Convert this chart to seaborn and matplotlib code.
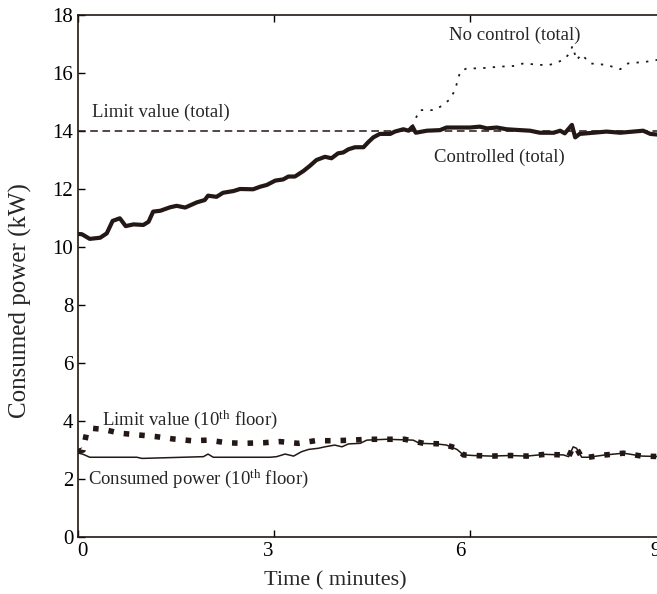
import numpy as np
import pandas as pd
import matplotlib
matplotlib.use('Agg')
import matplotlib.pyplot as plt
import matplotlib.transforms as mtransforms
import seaborn as sns

# --- data (time in minutes, power in kW) ---
ctrl_t = [0.0, 0.06, 0.18, 0.34, 0.44, 0.53, 0.64, 0.73, 0.85, 1.0, 1.08, 1.15, 1.26, 1.41,
          1.51, 1.64, 1.82, 1.94, 1.99, 2.12, 2.22, 2.38, 2.48, 2.68, 2.79, 2.89, 3.02, 3.14,
          3.22, 3.32, 3.45, 3.55, 3.65, 3.78, 3.88, 3.98, 4.06, 4.14, 4.24, 4.37, 4.44, 4.52,
          4.62, 4.78, 4.85, 4.98, 5.06, 5.12, 5.17, 5.34, 5.54, 5.64, 5.85, 6.0, 6.15, 6.26,
          6.41, 6.56, 6.77, 6.92, 7.07, 7.28, 7.38, 7.45, 7.56, 7.61, 7.68, 7.89, 8.09, 8.3,
          8.5, 8.65, 8.76, 9.0]
ctrl_kw = [10.45, 10.44, 10.28, 10.32, 10.47, 10.9, 10.99, 10.72, 10.78, 10.76, 10.87, 11.22,
           11.25, 11.37, 11.42, 11.36, 11.54, 11.62, 11.77, 11.73, 11.87, 11.93, 12.0, 11.99,
           12.08, 12.14, 12.29, 12.33, 12.43, 12.43, 12.62, 12.8, 13.0, 13.11, 13.06, 13.23,
           13.26, 13.37, 13.44, 13.44, 13.61, 13.78, 13.9, 13.9, 13.98, 14.06, 14.01, 14.15,
           13.94, 14.01, 14.03, 14.12, 14.12, 14.12, 14.15, 14.09, 14.12, 14.06, 14.03, 14.01,
           13.94, 13.94, 14.01, 13.92, 14.21, 13.78, 13.9, 13.94, 13.98, 13.94, 13.98, 14.01,
           13.9, 13.85]

noctrl_t = [5.12, 5.17, 5.23, 5.46, 5.59, 5.69, 5.77, 5.85, 5.95, 6.15, 6.46, 6.66, 6.82,
            7.07, 7.22, 7.43, 7.51, 7.57, 7.63, 7.71, 7.84, 8.09, 8.3, 8.42, 8.7, 9.0]
noctrl_kw = [14.15, 14.44, 14.72, 14.72, 14.9, 15.09, 15.41, 16.05, 16.16, 16.16, 16.22,
             16.24, 16.33, 16.28, 16.28, 16.45, 16.64, 16.93, 16.45, 16.64, 16.33, 16.28,
             16.13, 16.33, 16.39, 16.5]

limit_total = 14.0

lim10_t = [0.0, 0.08, 0.13, 0.21, 0.39, 0.64, 0.92, 1.2, 1.46, 1.74, 1.99, 2.28, 2.53, 2.84,
           3.09, 3.37, 3.63, 3.91, 4.19, 4.44, 4.72, 5.0, 5.29, 5.57, 5.8, 5.9, 6.05, 6.33,
           6.61, 6.87, 7.15, 7.43, 7.51, 7.58, 7.63, 7.71, 7.81, 8.07, 8.35, 8.63, 9.0]
lim10_kw = [2.95, 3.0, 3.58, 3.75, 3.71, 3.58, 3.52, 3.46, 3.38, 3.32, 3.34, 3.25, 3.23, 3.25,
            3.29, 3.23, 3.32, 3.32, 3.34, 3.37, 3.37, 3.37, 3.23, 3.21, 3.06, 2.83, 2.81, 2.79,
            2.81, 2.79, 2.85, 2.83, 2.77, 3.11, 3.06, 2.75, 2.75, 2.83, 2.89, 2.79, 2.77]

cons10_t = [0.0, 0.08, 0.18, 0.39, 0.9, 0.98, 1.92, 1.99, 2.07, 2.94, 3.04, 3.17, 3.3, 3.42,
            3.53, 3.68, 3.78, 3.93, 4.04, 4.14, 4.32, 4.42, 4.72, 5.13, 5.23, 5.49, 5.64, 5.8,
            5.9, 6.05, 6.33, 6.61, 6.87, 7.15, 7.43, 7.51, 7.58, 7.63, 7.71, 7.81, 8.07, 8.35,
            8.63, 9.0]
cons10_kw = [2.9, 2.85, 2.75, 2.75, 2.75, 2.71, 2.77, 2.86, 2.75, 2.75, 2.77, 2.86, 2.79, 2.94,
             3.02, 3.06, 3.11, 3.17, 3.11, 3.21, 3.23, 3.34, 3.37, 3.34, 3.23, 3.21, 3.17, 3.02,
             2.83, 2.81, 2.79, 2.81, 2.79, 2.85, 2.83, 2.77, 3.11, 3.06, 2.75, 2.75, 2.83, 2.89,
             2.79, 2.77]

x_ticks = [0, 3, 6, 9]
y_ticks = [0, 2, 4, 6, 8, 10, 12, 14, 16, 18]

sns.set_style('ticks')
plt.rcParams['font.family'] = ['Liberation Serif', 'DejaVu Serif']
plt.rcParams['mathtext.fontset'] = 'custom'
plt.rcParams['mathtext.rm'] = 'Liberation Serif'
plt.rcParams['mathtext.it'] = 'Liberation Serif:italic'

ink = '#231815'

fig = plt.figure(figsize=(6.57, 5.94), dpi=100)
# axes run past the right edge of the picture, as in the original crop
ax = fig.add_axes([78 / 657, 57 / 594, (666 - 78) / 657, 522 / 594])

sns.lineplot(x=ctrl_t, y=ctrl_kw, ax=ax, color=ink, lw=3.0, sort=False)
sns.lineplot(x=noctrl_t, y=noctrl_kw, ax=ax, color=ink, lw=1.3, sort=False,
             linestyle=(0, (1.3, 4.0)))
ax.axhline(limit_total, color=ink, lw=1.1, linestyle=(0, (5, 3)))
sns.lineplot(x=lim10_t, y=lim10_kw, ax=ax, color=ink, lw=4.0, sort=False,
             linestyle=(0, (1.0, 1.8)))
sns.lineplot(x=cons10_t, y=cons10_kw, ax=ax, color=ink, lw=1.1, sort=False)

ax.set_xlim(0, 9)
ax.set_ylim(0, 18)
ax.set_xticks(x_ticks)
ax.set_yticks(y_ticks)
ax.tick_params(direction='in', length=5, width=1, labelsize=15, colors='black',
               top=True, right=True)
for s in ax.spines.values():
    s.set_linewidth(1.2)
    s.set_color(ink)

# the original x tick labels sit a little off their ticks
x_label_shift = [4, -6, -10, -10]
for lab, dx in zip(ax.get_xticklabels(), x_label_shift):
    lab.set_transform(lab.get_transform() +
                      mtransforms.ScaledTranslation(dx / 100, 0, fig.dpi_scale_trans))

ax.set_xlabel('Time ( minutes)', fontsize=16)
ax.xaxis.set_label_coords((335 - 78) / 588, -0.066)
ax.set_ylabel('Consumed power (kW)', fontsize=18)
ax.yaxis.set_label_coords(-0.078, (537 - 301) / 522)

ax.text(6.69, 17.3, 'No control (total)', fontsize=13.5, ha='center', va='center')
ax.text(0.21, 14.65, 'Limit value (total)', fontsize=13.5, ha='left', va='center')
ax.text(5.45, 13.1, 'Controlled (total)', fontsize=13.5, ha='left', va='center')
ax.text(0.37, 4.05, r'Limit value (10$^{\rm th}$ floor)', fontsize=13.5, ha='left', va='center')
ax.text(0.15, 2.0, r'Consumed power (10$^{\rm th}$ floor)', fontsize=13.5, ha='left',
        va='center')

fig.savefig('out.png', dpi=100)
